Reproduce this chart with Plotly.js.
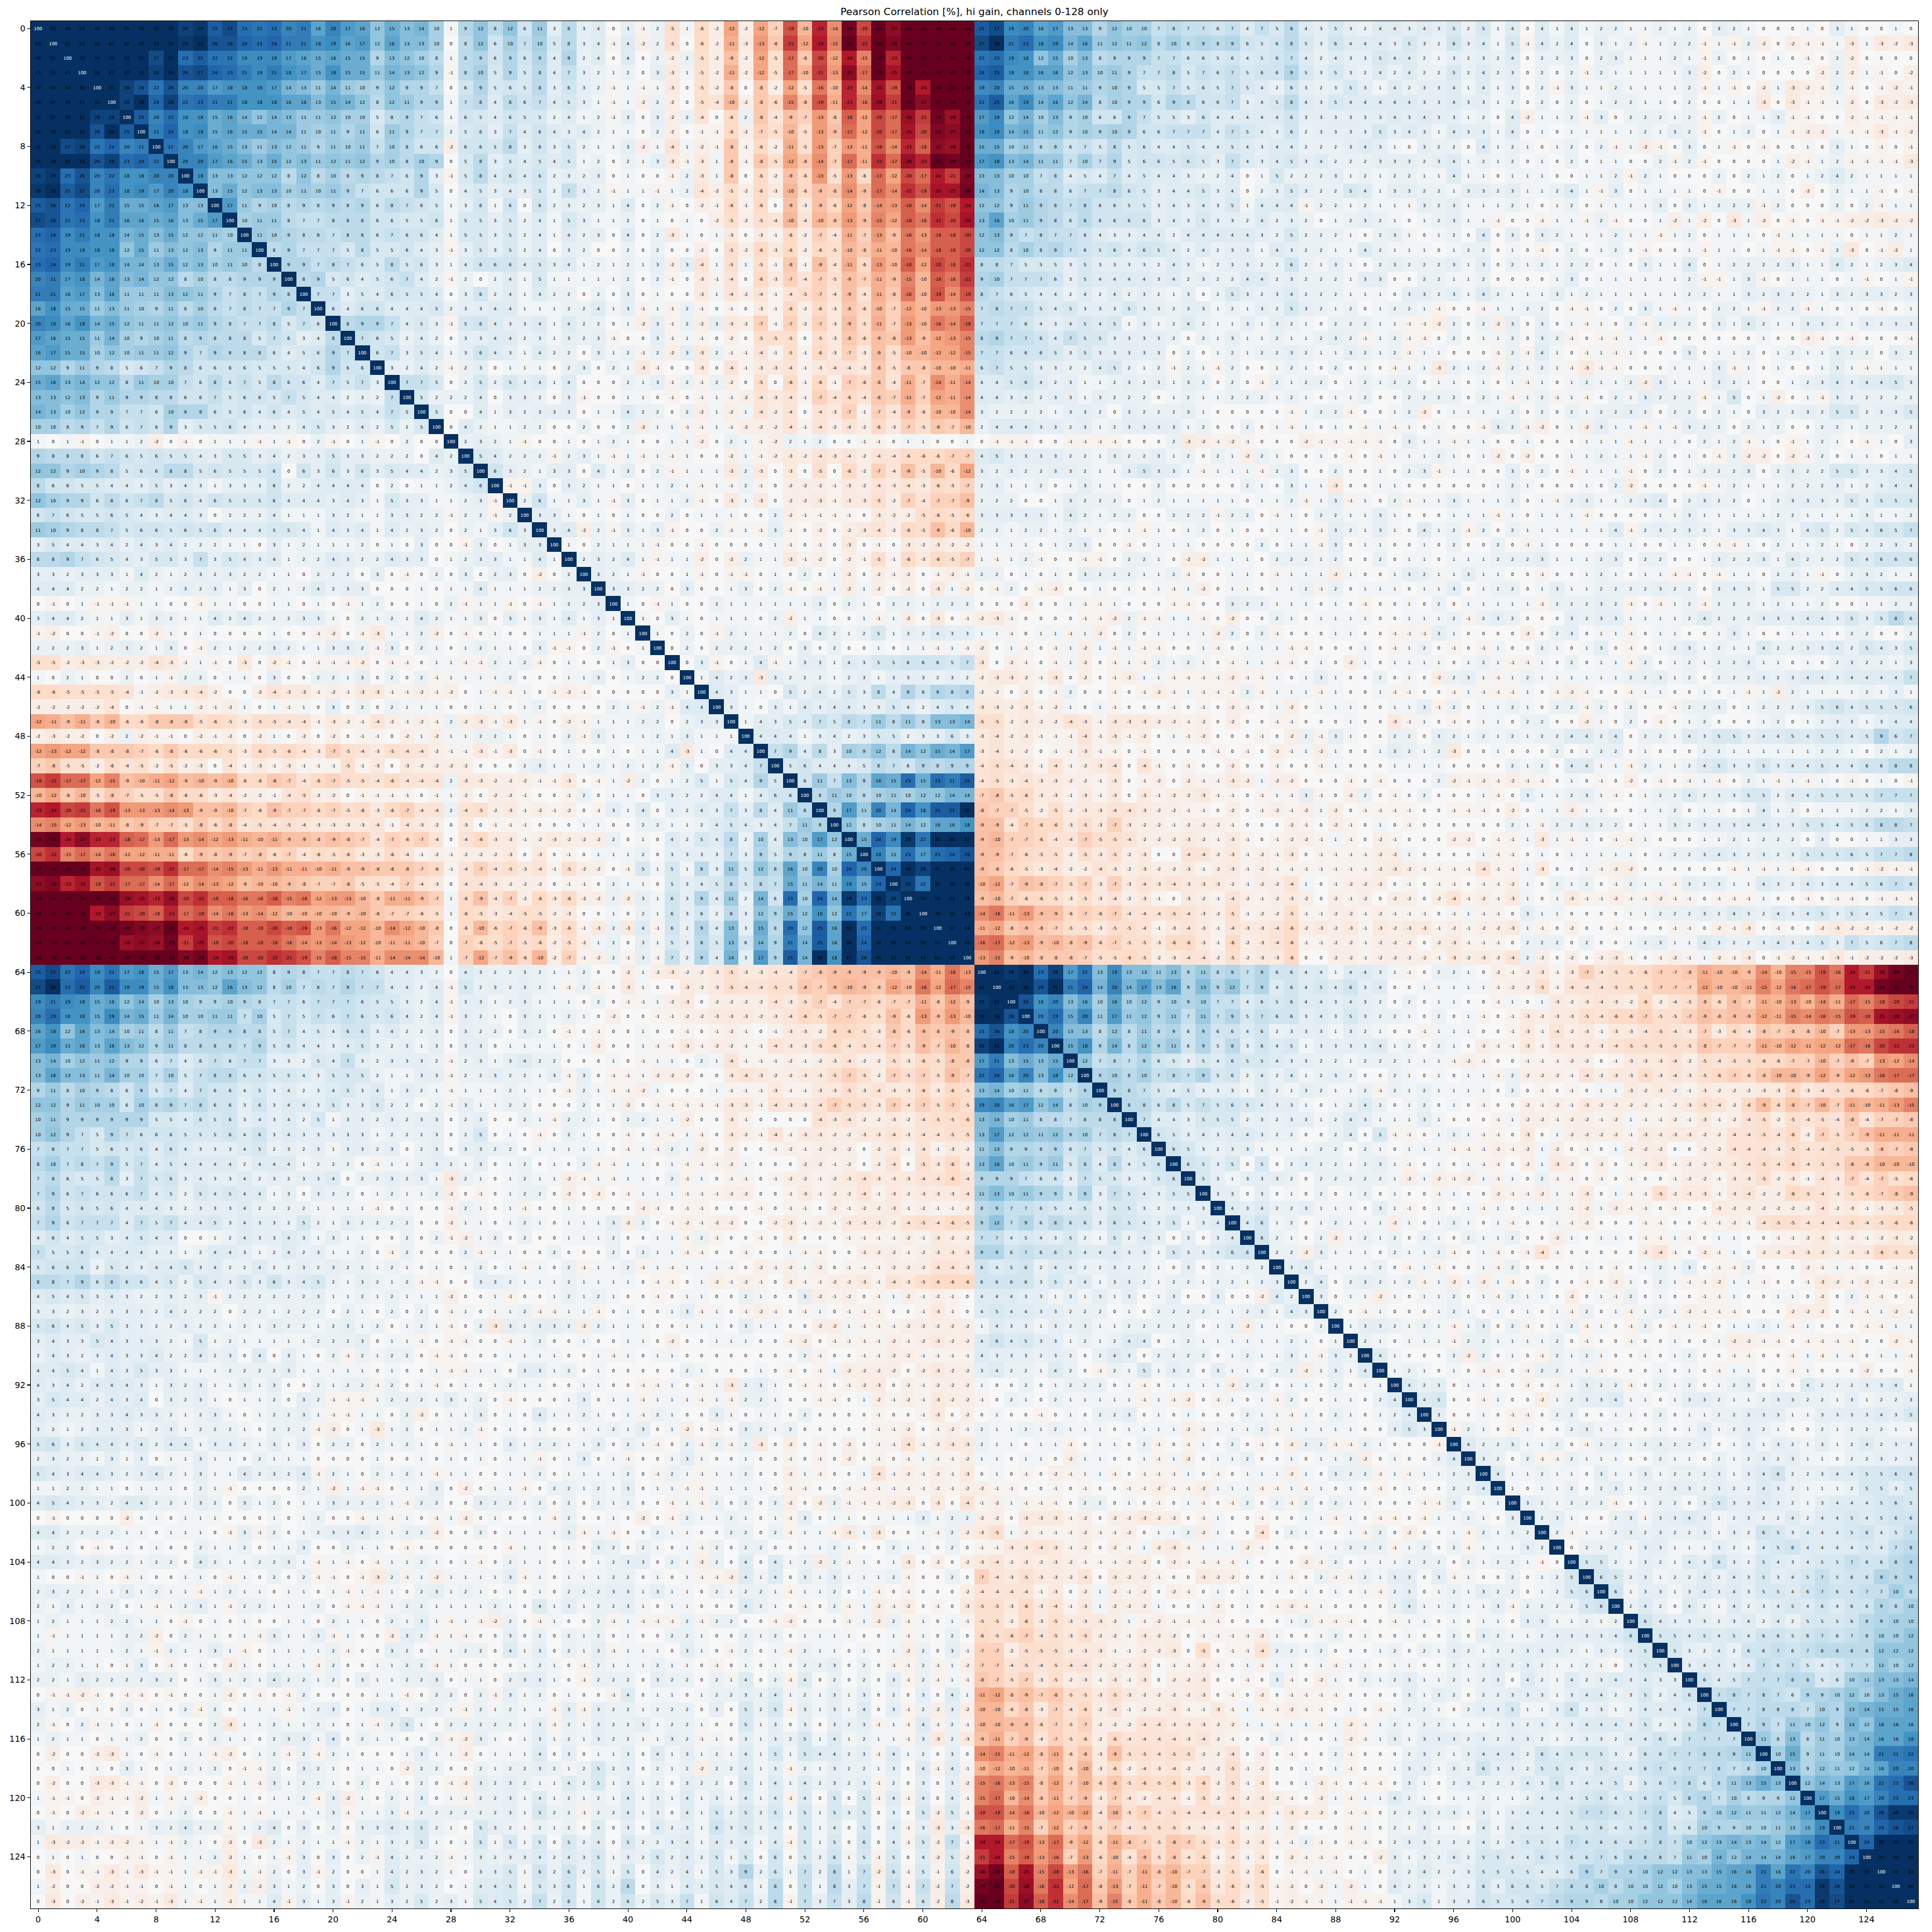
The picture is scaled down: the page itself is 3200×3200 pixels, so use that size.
<!DOCTYPE html>
<html><head><meta charset="utf-8">
<script src="https://cdn.plot.ly/plotly-3.0.1.min.js"></script>
<style>html,body{margin:0;padding:0;background:#fff}#chart{width:3200px;height:3200px}</style>
</head><body><div id="chart"></div>
<script>
const titleText = "Pearson Correlation [%], hi gain, channels 0-128 only";
const channelCount = 128;
const tickValues = [0,4,8,12,16,20,24,28,32,36,40,44,48,52,56,60,64,68,72,76,80,84,88,92,96,100,104,108,112,116,120,124];
const rdbuStops = ["#67001f","#b2182b","#d6604d","#f4a582","#fddbc7","#f7f7f7","#d1e5f0","#92c5de","#4393c3","#2166ac","#053061"];

// rows 0-38, from the cell right of the diagonal through channel 39
const triA = [
[60,49,53,40,46,35,36,32,35,28,29,25,27,23,22,23,20,21,16,20,17,16,12,15,13,14,10,1,9,12,8,12,6,11,3,8,3,4,0],
[51,55,43,47,37,39,33,38,29,32,26,26,24,23,24,21,21,18,19,16,17,12,16,13,13,10,0,8,12,6,10,7,10,5,8,3,4,-1],
[45,34,39,30,31,27,31,23,25,22,22,19,19,19,17,16,15,16,15,15,9,13,12,10,8,1,8,9,6,9,6,9,4,9,2,4,0],
[36,41,32,32,28,33,26,27,24,23,21,19,21,18,17,15,18,15,15,11,14,13,12,9,-1,8,10,5,9,5,8,4,7,3,2,1],
[31,28,26,22,26,20,20,17,18,18,18,17,14,13,11,14,11,10,9,12,9,9,7,0,6,9,5,6,5,8,3,6,3,2,-1],
[28,30,24,28,22,23,21,21,18,18,18,16,16,13,15,14,12,8,12,11,9,9,1,7,8,4,8,6,7,4,5,3,1,-1],
[25,20,23,18,18,15,16,14,12,14,13,11,11,12,10,10,5,8,9,7,6,1,6,5,4,6,5,5,2,4,1,2,-1],
[21,24,18,19,15,16,15,15,14,14,11,10,11,9,11,6,11,9,7,7,2,5,6,3,7,4,6,4,3,4,2,1],
[22,20,17,16,15,13,11,13,12,11,9,11,10,11,7,10,8,6,6,-2,6,6,5,8,3,6,3,5,2,1,1],
[20,20,17,16,15,13,15,12,13,11,12,11,12,9,10,8,10,9,0,5,8,3,5,4,5,4,5,1,2,0],
[18,13,13,12,12,12,8,12,8,10,8,9,8,7,6,9,3,-1,5,8,4,6,4,6,2,3,2,3,0],
[13,15,12,13,13,10,11,10,11,9,7,6,6,6,9,5,0,4,5,3,4,3,5,2,7,3,2,-1],
[17,11,9,10,8,9,8,9,8,9,6,8,7,6,5,1,3,6,1,6,0,6,2,3,2,3,1],
[10,11,11,8,7,7,8,8,8,6,6,5,5,6,1,5,5,3,5,2,4,1,5,3,1,1],
[11,10,9,8,8,7,8,8,6,7,6,6,4,1,5,5,3,5,2,4,1,4,2,3,0],
[8,9,7,7,7,5,8,5,5,6,4,3,-1,3,5,3,5,2,4,0,3,2,0,0],
[9,9,7,8,7,6,5,8,5,6,3,1,4,6,6,6,4,5,3,4,1,2,1],
[8,9,5,6,4,5,6,7,4,2,-1,2,0,2,4,1,5,1,1,1,1,1],
[7,7,3,5,4,6,5,5,4,0,3,6,2,4,1,4,2,2,0,2,0],
[6,4,6,6,4,4,4,5,2,3,3,4,4,1,1,1,2,2,4,1],
[8,9,9,7,4,5,3,-1,5,6,4,3,3,4,1,4,2,2,0],
[7,6,5,2,4,2,0,3,3,4,4,2,3,1,3,2,3,-1],
[6,7,3,5,4,1,3,6,4,3,1,4,2,2,0,3,1],
[3,2,4,2,-1,2,3,0,1,1,1,0,2,3,0,2],
[7,7,5,0,2,5,2,5,3,4,1,4,0,0,0],
[5,2,2,2,4,0,3,3,2,0,3,-1,0,0],
[5,0,0,4,1,3,2,3,3,3,0,1,1],
[0,4,2,1,1,2,2,0,0,2,0,0],
[2,3,2,1,-1,0,0,1,0,1,2],
[5,4,2,2,2,-1,2,3,1,-1],
[6,3,2,1,3,3,0,4,1],
[-1,-1,3,0,3,2,1,1],
[2,6,1,1,3,1,-1],
[3,3,1,0,1,0],
[3,4,-2,2,-1],
[1,0,2,1],
[2,3,2],
[3,2],
[3]
];

// rows 0-39, channels 40-79
const blockB = [
[3,-1,2,-5,1,-6,-2,-12,-2,-12,-7,-19,-10,-23,-14,-29,-20,-37,-27,-43,-34,-49,-46,-56,25,27,19,20,16,17,13,13,9,12,10,10,7,8,7,7],
[4,-2,2,-5,0,-6,-2,-11,-3,-13,-8,-21,-12,-24,-15,-31,-22,-36,-28,-45,-37,-52,-48,-59,27,30,21,23,18,19,14,16,11,12,11,12,8,10,8,9],
[4,0,2,-2,2,-5,-2,-9,-2,-12,-5,-17,-8,-20,-12,-24,-15,-30,-23,-36,-30,-42,-37,-46,22,23,19,18,12,15,10,13,8,9,9,9,7,7,6,6],
[2,0,3,-3,1,-5,-2,-11,-2,-12,-5,-17,-10,-21,-13,-27,-17,-32,-25,-39,-31,-44,-42,-50,24,25,18,18,16,16,12,13,10,11,9,7,7,8,5,7],
[1,-1,1,-3,0,-5,-2,-8,0,-8,-2,-12,-5,-16,-10,-23,-14,-25,-19,-30,-24,-34,-31,-38,19,20,15,15,13,13,11,11,9,10,9,5,5,7,5,6],
[1,-2,2,-2,0,-5,-4,-10,-2,-8,-6,-15,-8,-19,-11,-23,-16,-26,-21,-33,-27,-37,-36,-42,22,25,16,19,14,16,12,14,8,10,9,9,6,9,8,6],
[3,0,3,-2,2,-4,0,-6,2,-8,-4,-9,-7,-13,-8,-18,-12,-20,-17,-26,-21,-29,-26,-33,17,19,12,14,10,13,9,10,6,6,9,7,5,5,3,6],
[1,0,2,-2,0,-1,-1,-6,-2,-7,-5,-10,-5,-13,-9,-17,-12,-20,-17,-25,-20,-28,-27,-32,18,19,14,15,11,12,9,10,9,10,9,6,6,7,7,7],
[3,-2,1,-4,1,-2,-1,-8,-1,-6,-2,-11,-5,-13,-7,-13,-11,-19,-14,-23,-18,-27,-26,-32,15,15,10,11,8,9,6,7,5,8,5,6,4,4,5,4],
[2,1,3,-3,-1,-3,1,-8,-1,-8,-5,-12,-8,-14,-7,-17,-11,-22,-17,-26,-23,-31,-29,-33,17,18,13,14,11,11,7,10,7,9,5,6,6,5,6,5],
[1,0,0,-1,2,-3,1,-8,0,-6,-2,-9,-6,-13,-5,-13,-6,-17,-12,-20,-17,-24,-21,-28,13,13,10,10,7,8,4,5,4,7,4,5,4,4,3,2],
[1,1,-1,1,2,-4,-2,-5,-2,-6,-3,-10,-6,-9,-8,-14,-9,-17,-14,-22,-19,-25,-25,-29,14,13,9,10,8,8,6,7,7,8,6,5,3,4,4,5],
[4,0,2,-1,0,-2,-1,-6,-1,-6,0,-9,-3,-9,-6,-12,-8,-14,-13,-18,-14,-21,-19,-24,12,12,9,11,9,8,7,8,6,6,5,5,3,4,3,4],
[2,0,1,0,1,0,-2,-5,-2,-5,-4,-10,-4,-10,-8,-13,-9,-15,-12,-18,-16,-22,-20,-25,13,16,10,11,9,8,6,8,6,6,6,6,3,4,3,5],
[4,0,2,-3,1,0,1,-3,0,-3,-1,-6,-2,-7,-4,-11,-7,-13,-9,-16,-13,-18,-18,-20,12,13,9,7,8,7,7,6,4,3,3,4,4,2,4,4],
[2,0,2,0,0,-2,0,-5,-2,-6,-3,-6,-2,-6,-5,-10,-8,-11,-10,-16,-14,-18,-18,-20,12,12,8,10,8,9,7,6,5,6,4,6,5,4,2,4],
[2,1,3,-2,3,-4,1,-5,1,-5,-1,-8,-1,-9,-4,-11,-6,-13,-10,-18,-12,-20,-18,-22,8,8,7,5,5,5,3,5,3,3,3,3,2,4,3,1],
[2,0,2,-1,0,-3,-1,-4,0,-6,-3,-7,-4,-7,-5,-9,-7,-11,-9,-15,-10,-18,-16,-21,9,10,7,7,7,6,3,5,4,4,4,4,3,4,2,3],
[3,0,1,0,0,-3,1,-4,-2,-4,-1,-4,-5,-7,-4,-9,-4,-11,-8,-16,-10,-19,-14,-19,8,7,6,5,4,4,2,4,2,4,2,3,2,1,3,0],
[3,-1,1,-1,2,-1,0,-1,0,-3,-1,-6,-2,-6,-3,-8,-6,-10,-7,-12,-10,-13,-13,-15,7,8,7,7,5,4,5,3,3,3,5,3,3,2,3,3],
[1,-2,3,-1,2,-2,3,-3,-2,-7,-1,-7,-2,-7,-3,-9,-5,-11,-7,-13,-10,-16,-14,-18,7,7,7,6,4,3,4,5,4,5,1,3,1,2,4,2],
[0,0,3,-1,1,-1,0,-2,0,-5,-5,-5,0,-5,-3,-8,-6,-9,-8,-13,-9,-12,-13,-15,8,9,7,7,6,4,7,5,5,3,3,3,3,2,0,2],
[2,-1,2,-2,3,-3,2,-1,-1,-4,-1,-5,-1,-6,-3,-7,-3,-9,-5,-10,-10,-12,-12,-15,7,7,6,6,6,5,3,5,3,3,3,3,3,0,2,0],
[1,-3,-1,0,0,-3,0,-4,-1,-3,-3,-4,-1,-3,-4,-4,-3,-8,-5,-8,-8,-10,-10,-11,6,7,5,5,3,3,2,2,4,5,2,1,2,-1,2,1],
[2,1,3,-1,2,-1,2,-2,0,-5,0,-6,-1,-6,-1,-7,-6,-8,-4,-11,-7,-14,-11,-14,4,4,5,6,4,2,3,1,1,2,3,2,3,1,3,2],
[1,1,0,-1,0,-1,1,-1,-2,-4,-3,-4,-1,-7,-4,-6,-4,-8,-7,-11,-7,-12,-11,-14,4,4,3,4,2,3,3,1,3,2,2,2,0,1,2,1],
[4,2,2,0,2,-2,1,-2,1,-4,-2,-4,0,-4,-3,-7,-1,-7,-4,-9,-6,-10,-10,-14,3,2,2,2,2,1,3,3,2,0,3,2,2,2,3,1],
[2,-2,1,1,-1,-1,1,-1,-2,-2,-2,-4,-1,-4,-2,-4,-2,-6,-3,-7,-5,-8,-7,-10,2,4,4,4,3,3,2,3,1,2,3,3,3,3,1,2],
[1,0,0,1,1,-2,0,2,1,-1,-2,2,1,2,0,0,-1,-1,0,1,1,0,0,1,0,-1,-1,-1,0,0,-1,-1,-1,-1,0,0,0,2,-3,-2],
[1,-1,1,-1,1,0,0,-2,1,-1,-2,-3,-2,-4,-3,-4,-2,-4,-4,-6,-6,-6,-7,-7,4,5,3,3,3,3,2,2,1,3,2,2,3,1,2,0],
[3,0,2,-1,1,1,1,-3,2,-3,0,-3,0,-5,0,-6,-2,-7,-4,-9,-5,-10,-6,-12,3,2,3,2,2,3,3,2,1,1,3,5,3,3,1,-1],
[0,1,1,2,1,-1,1,-1,2,-1,0,-2,-2,-2,-1,-3,-2,-4,-3,-4,-3,-6,-5,-7,2,3,1,1,2,0,1,3,1,1,0,0,2,0,0,0],
[3,0,1,1,2,-1,0,-3,1,-3,0,-2,-2,-3,-1,-3,-3,-5,-2,-7,-4,-7,-7,-9,2,2,2,0,0,1,3,2,2,2,0,1,2,1,1,1],
[1,0,0,2,0,1,1,1,0,0,2,-2,-1,-1,-1,-1,0,-3,-2,-2,-5,-6,-5,-6,3,3,3,3,3,1,4,2,1,2,2,0,0,2,2,2],
[3,1,3,-1,0,0,2,-1,1,-1,3,-1,0,-2,0,-2,-3,-4,-2,-6,-5,-9,-6,-10,2,2,1,2,2,1,2,1,1,0,1,-1,1,0,1,2],
[1,1,-1,0,0,-1,0,0,0,0,1,-1,0,-1,0,-3,0,-1,0,-3,-2,-3,-2,-2,1,1,1,1,0,1,2,3,0,0,-1,0,1,1,1,0],
[4,1,-1,1,1,-2,0,-2,2,1,1,-3,-1,-2,0,-2,-1,-5,-1,-6,-3,-6,-5,-7,1,-1,1,2,-1,0,0,-1,-1,0,2,2,1,0,-2,-2],
[1,-1,0,0,1,-1,0,-1,-1,0,1,0,2,0,1,-2,0,-2,-1,-2,0,-1,-2,-1,2,2,0,1,0,1,0,3,2,2,2,1,1,2,-1,0],
[3,2,2,0,3,0,0,1,3,0,2,-1,0,-1,1,-2,1,-2,0,-2,0,-3,1,-2,0,-1,2,0,-1,-2,0,0,1,0,1,0,1,-1,1,-2],
[1,0,-1,1,0,0,2,1,1,1,1,1,1,3,0,2,1,0,2,2,1,2,2,2,0,0,0,-2,0,0,1,-1,-1,1,0,0,0,-1,-1,0]
];

// rows 0-39, channels 80-127
const blockC = [
[6,7,4,7,5,8,4,3,5,3,2,4,4,3,4,3,5,2,5,1,4,0,4,1,4,1,2,2,1,1,2,1,2,0,3,2,1,0,0,0,1,0,3,1,0,0,1,0],
[8,9,6,5,6,8,5,3,6,4,4,4,3,5,3,2,6,3,4,1,5,-1,4,2,4,0,3,1,2,-1,1,2,2,-1,1,-1,2,-2,0,-2,-1,-1,1,-3,1,-3,-2,-3],
[5,6,4,5,6,7,4,2,4,3,3,5,4,4,2,1,3,2,3,2,4,0,2,2,3,0,2,3,1,1,1,2,1,-1,2,0,1,0,1,0,-1,0,2,-2,0,0,0,0],
[6,7,5,6,6,9,5,3,5,3,2,4,2,4,2,2,5,2,4,2,3,0,2,0,2,-1,2,1,1,1,1,1,3,-2,0,2,1,0,0,0,0,-2,2,-2,1,-1,0,-2],
[5,7,5,4,2,6,3,2,3,5,3,1,4,2,3,3,4,1,4,1,3,0,2,-1,3,1,1,2,1,1,1,1,2,-1,1,-1,0,-2,1,-3,-2,-1,2,-1,0,-1,-2,-1],
[6,7,3,4,5,8,4,3,5,4,4,4,4,4,3,3,4,3,3,1,2,0,2,0,2,0,1,2,2,1,1,0,2,0,0,1,1,-3,0,-3,-1,-1,1,-2,0,-3,-2,-3],
[4,4,4,4,4,6,3,3,3,3,3,3,4,3,4,3,3,1,2,0,4,-2,1,1,2,-1,3,0,2,2,2,1,2,-1,2,0,1,1,3,-1,-1,0,0,-2,-1,-1,-1,-1],
[4,7,5,4,3,6,2,3,3,3,3,5,3,4,3,1,4,3,3,1,4,0,1,0,1,1,1,1,1,2,1,3,2,-1,0,1,2,0,1,-1,-2,-2,1,-1,-1,-3,-1,-2],
[4,5,4,3,4,4,2,2,2,3,4,3,1,0,3,2,2,0,4,1,2,1,0,1,2,0,2,-1,1,-2,-1,0,3,0,1,-1,0,-1,0,0,1,0,3,1,0,-1,0,-1],
[3,7,4,3,4,5,3,4,2,2,2,3,3,3,2,3,4,1,2,1,2,0,1,0,2,0,1,1,0,0,2,-1,2,-1,0,0,0,0,1,-2,-1,1,2,-1,-1,-1,-1,-3],
[2,4,0,1,5,2,2,2,3,1,2,1,2,2,1,1,4,1,1,0,1,1,1,0,0,1,1,2,-1,2,1,0,0,0,2,0,2,1,2,0,1,2,4,2,1,1,1,1],
[3,4,0,2,3,5,3,2,2,5,4,1,3,3,2,2,1,3,3,2,3,1,1,2,4,1,-1,3,0,1,1,1,1,0,-1,0,0,1,1,0,-2,0,2,1,1,-1,0,-1],
[3,5,1,4,4,4,-1,2,2,1,2,1,1,1,3,2,3,1,1,1,2,1,0,1,2,0,1,1,1,1,3,0,3,1,2,2,2,-1,2,0,0,0,2,0,2,-1,1,1],
[3,3,2,4,2,3,2,0,1,2,3,2,1,0,1,2,3,1,1,-1,0,0,-1,1,1,-1,2,-1,0,0,1,-2,1,-2,0,-3,1,-2,0,-1,0,-1,-1,-2,-2,-3,-2,-2],
[4,4,4,3,2,5,2,2,2,1,0,2,3,1,0,1,2,0,4,0,3,0,3,2,1,1,1,2,1,1,-1,1,2,0,1,1,1,0,-1,1,1,1,1,0,1,1,2,1],
[2,3,3,1,4,3,2,2,1,1,4,2,1,1,1,0,1,2,2,0,1,0,-1,0,2,0,1,2,0,-1,0,0,1,-1,1,1,0,1,-1,-1,0,-1,2,-3,0,-1,-2,1],
[2,3,3,2,2,6,2,1,3,1,0,2,3,2,2,2,3,1,3,0,2,1,2,1,2,2,0,1,0,3,1,1,4,0,1,2,2,2,2,3,1,1,4,2,1,2,3,4],
[2,2,4,4,2,3,2,2,2,1,3,3,0,0,2,2,1,1,2,0,0,0,0,1,3,0,1,1,1,1,1,1,2,-1,-1,1,3,-1,0,1,1,1,0,1,-1,0,1,-1],
[2,5,3,2,3,4,2,2,2,1,1,1,0,3,3,2,3,1,4,2,1,1,1,3,1,2,1,1,1,1,1,1,2,2,1,1,3,2,3,2,2,1,3,2,3,3,2,3],
[1,2,1,3,2,5,3,2,1,2,0,1,2,2,1,-1,0,0,-1,1,1,2,2,0,-1,-1,0,2,0,3,1,-1,1,0,2,2,1,-1,2,2,-1,1,0,1,0,-1,0,1],
[1,1,3,1,3,2,1,0,2,2,2,1,1,-1,-1,-2,2,0,2,-2,3,0,3,0,1,-1,1,0,2,-1,2,2,2,0,3,1,4,2,1,1,3,3,2,1,3,2,3,3],
[1,3,1,1,2,1,1,2,3,2,-1,1,2,-1,-1,0,2,0,1,1,2,0,3,2,-1,0,-1,-1,1,1,-1,0,0,0,0,0,0,1,0,0,-2,-1,0,-1,0,0,0,-1],
[1,2,1,2,2,3,2,1,1,3,2,1,2,-1,1,1,0,0,0,-1,2,-1,4,1,0,-1,1,-1,1,0,0,0,3,0,1,1,2,0,1,2,1,1,3,2,2,0,3,2],
[-1,2,0,0,1,2,1,0,2,0,1,0,-1,1,1,-3,2,1,2,-1,2,1,2,1,-1,-3,-1,-1,0,0,0,1,1,1,3,-1,1,0,1,0,0,1,3,1,-1,1,1,1],
[0,2,0,-1,2,1,2,2,0,1,2,1,2,2,0,1,1,0,1,0,1,-1,1,0,1,2,1,1,2,-2,3,1,1,1,3,2,1,0,0,1,2,3,4,3,4,4,5,3],
[1,2,2,2,1,2,1,0,1,1,2,0,0,2,2,2,2,0,2,1,-1,1,2,-1,1,-1,0,2,1,3,2,2,2,-1,1,5,0,1,-2,0,1,-1,3,2,2,2,2,2],
[0,0,0,0,0,-1,1,2,2,-1,0,0,1,2,-2,0,1,1,1,1,2,0,2,0,2,1,2,2,3,2,0,2,2,0,2,1,0,3,2,2,3,2,5,5,2,3,3,5],
[0,0,2,0,1,-1,1,0,1,0,-1,1,-1,1,0,1,0,0,-1,3,2,-1,-2,0,1,-2,3,1,1,-1,1,-1,3,2,2,0,2,1,2,0,0,2,2,1,2,2,2,2],
[-1,-2,-1,0,0,0,-2,-1,-1,-1,-1,-1,0,3,1,1,-1,1,1,0,0,1,0,0,0,1,1,1,-1,1,1,1,0,2,1,2,-1,1,0,-1,1,2,1,0,-1,1,0,3],
[2,1,-2,2,1,0,0,1,0,-1,0,-1,1,1,1,2,1,0,1,-2,0,-2,0,0,1,1,2,1,1,-1,2,0,1,0,-1,2,-2,-2,0,-2,-1,2,0,1,1,0,1,1],
[1,1,1,-1,2,3,0,0,2,0,0,1,0,2,3,-1,1,1,0,0,3,0,2,0,-1,1,1,1,-1,0,2,0,1,2,2,2,3,0,2,3,2,2,5,5,3,3,4,5],
[0,0,2,1,0,3,1,1,-3,0,0,1,1,0,0,0,0,0,0,1,2,1,0,0,0,1,0,2,-2,0,0,0,0,-1,1,2,1,1,1,2,2,2,3,1,2,3,4,4],
[1,1,0,1,1,2,-1,1,3,-1,1,0,2,-1,1,1,3,1,1,1,2,0,1,-1,2,3,1,1,2,3,4,0,2,3,2,2,0,1,2,3,3,3,2,5,3,5,5,5],
[-1,2,2,0,-1,1,0,2,2,1,1,3,1,0,0,0,1,1,1,-1,1,0,1,1,1,-1,0,0,0,0,1,1,3,1,1,1,1,1,2,2,1,1,1,1,3,1,1,2],
[0,1,0,0,1,1,0,-1,3,2,1,3,1,0,4,1,2,-1,2,0,2,1,1,1,1,1,1,4,-1,2,3,2,3,2,1,3,3,4,3,1,4,5,2,5,4,6,5,7],
[0,0,0,2,0,1,1,-1,3,0,1,1,0,0,1,0,2,0,0,2,0,-1,1,0,0,0,0,1,1,0,0,1,1,0,-1,-1,1,0,2,1,1,2,1,0,2,2,3,2],
[1,1,1,0,2,2,2,1,2,0,0,2,0,1,1,0,1,1,1,2,2,2,3,1,1,1,2,3,0,2,2,0,0,1,3,2,2,3,1,4,2,2,2,5,4,6,6,6],
[0,1,1,0,-1,1,1,1,-2,1,0,0,1,3,2,1,1,3,1,1,0,0,-1,0,0,1,2,1,0,1,1,-1,-1,0,-1,1,1,0,2,2,1,-1,0,2,3,2,1,1],
[0,1,1,0,1,1,2,-1,2,0,1,1,1,0,1,1,3,0,1,2,2,0,1,3,1,1,2,2,2,2,3,2,2,0,3,3,3,1,5,5,2,2,4,4,5,5,6,6],
[0,3,2,2,1,1,1,0,1,0,-1,0,0,1,0,2,0,1,1,1,1,1,-1,2,2,2,3,2,-1,0,-1,1,2,-1,2,2,2,1,2,1,1,2,0,0,1,1,2,2]
];

// rows 40-78, from the cell right of the diagonal through channel 79
const triD = [
[1,0,3,1,0,1,1,1,0,2,-2,1,1,0,0,1,-1,1,-2,0,-3,0,-1,-2,-3,-1,0,0,0,0,-1,-1,-2,2,-1,-1,1,1,-1],
[1,0,2,0,-1,2,1,1,1,2,0,4,2,1,2,5,1,3,2,4,3,3,1,1,-1,0,1,1,-1,1,-2,0,2,0,1,1,1,1],
[0,2,0,2,2,2,1,2,0,3,0,2,0,0,1,0,1,1,-1,1,-1,-2,0,1,-1,0,-1,1,-2,1,-1,1,-1,-1,0,0,1],
[0,3,-1,0,1,4,-1,1,3,3,1,4,3,5,5,6,6,6,5,7,-3,0,-2,-1,0,-1,1,-2,0,-1,1,-1,2,1,2,1],
[1,4,2,3,-3,3,2,2,2,1,2,3,1,3,3,3,2,3,2,-2,-3,-3,-2,-1,-3,0,-2,0,-1,-2,1,1,-1,-1,-1],
[4,3,1,1,0,5,2,4,2,5,3,8,4,9,6,9,8,9,-2,-2,0,-2,0,-1,2,0,0,-1,0,-1,-2,-1,1,-1],
[3,1,0,3,1,4,3,4,4,3,3,5,4,2,4,5,4,-3,-3,-2,-3,-1,-2,1,0,1,-1,0,0,0,-1,0,-1],
[1,4,3,5,4,7,5,8,7,11,8,11,8,13,13,14,-5,-5,-2,-3,-2,-2,-4,-3,-1,-3,-3,-3,-2,-2,-1,-2],
[4,4,4,1,3,4,2,3,5,5,2,3,3,6,3,-3,-4,-2,-3,-1,-1,-1,-4,-1,-3,-1,-2,0,1,-1,-2],
[7,9,4,8,3,10,9,12,8,14,12,15,14,17,-3,-4,-2,-2,0,-1,-1,-3,-1,-1,0,-1,0,0,0,0],
[5,6,4,4,4,5,8,7,6,9,8,9,9,-4,-5,-4,-3,-1,-4,-1,-2,-3,-4,0,-4,-1,0,-1,0],
[6,11,7,13,9,16,15,23,15,23,21,25,-4,-5,-3,-4,-3,-3,-2,-2,-1,-3,0,-1,-2,0,-2,-1],
[8,11,10,8,10,11,10,12,12,14,14,-7,-8,-5,-6,-3,-3,-1,-3,-1,-3,0,-3,-1,-2,-2,-3],
[9,17,11,20,14,24,18,25,25,30,-8,-7,-7,-5,-2,-5,-2,-3,-3,-4,-4,-3,-2,-2,-1,-1],
[12,8,10,11,14,12,16,16,18,-9,-9,-4,-7,-6,-6,-3,-5,-3,-7,-3,-2,-2,-1,-2,-2],
[15,24,19,29,22,32,30,37,-9,-10,-7,-7,-6,-4,-4,-7,-5,-5,-4,-2,-2,-2,-3,-2],
[20,15,23,17,23,24,26,-9,-9,-7,-6,-5,-5,-2,-5,-3,-5,-2,-3,0,0,-4,-4],
[24,38,28,41,38,46,-9,-8,-6,-5,-3,-4,-2,-2,-4,-3,-2,-3,-2,-2,-3,-1],
[28,22,31,30,35,-10,-12,-7,-9,-8,-7,-5,-7,-3,-7,-3,-4,-3,-4,-3,-3],
[35,50,44,56,-9,-10,-7,-6,-6,-5,-3,-5,-3,-4,-2,-3,-1,0,-3,-2],
[39,38,43,-14,-16,-11,-13,-9,-9,-6,-7,-6,-7,-4,-4,-4,-5,-4,-3],
[52,64,-11,-12,-8,-9,-8,-7,-5,-5,-3,-5,-5,-4,-1,-3,-4,-3],
[59,-16,-17,-12,-13,-9,-10,-8,-9,-6,-7,-5,-5,-3,-6,-6,-3],
[-13,-15,-9,-10,-8,-8,-8,-7,-5,-5,-6,-5,-2,-3,-4,-4],
[41,29,34,23,28,17,22,13,19,13,13,11,13,9,11],
[33,38,26,31,21,24,14,20,14,17,13,16,9,13],
[26,18,20,13,16,10,16,10,12,9,10,9,10],
[20,23,15,20,11,17,11,12,9,11,7,11],
[20,13,13,8,12,8,11,8,9,6,9],
[15,18,9,14,8,12,9,11,6,9],
[12,7,8,7,9,6,5,3,5],
[9,10,8,10,7,8,7,9],
[9,8,7,5,4,5,3],
[8,8,6,8,5,7],
[7,4,4,3,5],
[6,5,3,4],
[6,5,3],
[6,5],
[5]
];

// rows 40-79, channels 80-127
const blockE = [
[0,-2,0,0,2,1,0,1,1,1,1,0,0,1,1,1,2,-1,2,3,2,0,0,0,3,2,3,3,1,1,1,1,2,4,2,2,2,3,3,3,4,4,3,5,3,5,8,6],
[-2,2,0,2,-1,0,0,0,1,1,0,0,-1,-1,-1,3,1,0,0,0,0,-2,0,2,3,0,1,1,-1,0,1,1,0,0,1,3,1,0,0,1,1,1,0,2,2,0,0,2],
[-1,0,1,1,1,-1,-1,0,0,0,1,0,-1,1,2,0,-1,0,-1,1,0,0,2,1,0,1,3,0,-1,0,1,2,3,1,2,1,1,4,2,2,3,3,4,2,5,4,3,5],
[0,-1,1,1,-1,-1,0,1,0,-2,1,0,1,1,1,1,0,1,2,1,-1,-1,1,0,2,0,1,1,-1,2,0,1,2,1,2,2,3,1,1,0,1,0,2,3,2,2,1,3],
[-1,-2,-1,-1,1,0,1,3,1,0,0,2,0,1,0,-2,2,3,1,-1,1,2,1,1,1,1,1,1,2,2,3,1,2,0,2,2,2,3,2,3,4,4,3,4,4,4,4,7],
[-1,-1,2,-1,1,1,1,-1,1,0,0,1,-1,-1,0,0,-1,1,-1,-1,-1,1,0,-1,-2,-1,0,0,-1,1,1,0,0,1,0,1,-1,1,-2,2,1,1,1,1,2,1,3,1],
[0,-2,-1,0,1,-2,0,1,1,1,0,0,1,1,3,-1,2,0,1,1,2,1,0,2,2,-1,2,0,2,0,0,-1,2,2,3,0,1,2,2,2,3,5,6,4,5,5,5,6],
[0,-2,0,0,-1,-1,0,0,0,1,0,0,-3,-1,1,0,-1,0,1,1,0,2,2,0,0,-2,1,0,2,0,-1,0,1,2,0,0,0,1,2,0,1,2,3,3,1,3,4,4],
[0,0,0,-1,0,-2,2,-1,3,1,0,0,2,2,0,3,2,1,2,1,2,1,2,2,4,4,2,4,0,2,2,1,4,3,5,5,3,4,4,5,4,5,5,4,5,9,6,7],
[-1,0,-1,0,-2,-1,1,-2,1,0,0,1,3,2,1,2,-3,0,0,1,0,0,0,2,0,1,2,2,0,1,0,0,0,2,2,1,1,1,1,1,1,2,2,1,0,2,1,2],
[0,-2,0,0,-1,0,0,-1,1,0,0,0,1,1,1,1,0,0,0,0,2,1,2,0,4,4,1,1,-1,2,1,1,2,4,5,3,3,5,3,4,4,5,4,4,6,6,8,8],
[-1,-3,-2,1,-2,-2,0,0,0,-1,0,-1,0,0,0,2,-2,-1,-2,-1,-2,-1,-1,0,1,0,-1,0,-2,0,-1,0,-1,1,-1,0,2,1,-1,1,-1,1,0,-1,0,1,0,-1],
[-1,-1,0,-1,1,-1,3,-1,0,-2,2,0,-1,0,2,0,0,0,1,-1,0,3,1,1,2,3,1,-1,0,1,2,2,4,2,3,3,5,5,2,4,4,5,5,5,5,7,7,7],
[0,-2,0,-1,-2,-1,-2,1,-2,0,-1,-1,-1,-1,0,0,-1,-1,-1,0,-2,0,1,1,-2,1,1,0,0,1,1,2,0,1,1,0,1,4,1,2,0,1,1,1,2,2,1,3],
[-2,-1,0,0,0,-2,-1,0,-2,-1,0,1,0,-1,0,0,0,0,0,0,2,1,-1,2,2,3,2,2,0,1,1,3,2,3,3,3,4,4,3,3,5,5,4,5,6,8,8,7],
[-1,-3,-1,0,-1,-2,-2,-1,1,-1,0,-2,-1,0,0,0,-2,-2,0,-1,-1,1,-3,1,-1,1,0,-1,-1,1,0,0,0,1,1,2,1,2,2,2,0,3,0,0,1,1,3,3],
[-2,-3,-1,-2,-1,-3,0,-1,-1,-1,-1,-2,-2,1,0,0,0,0,1,-1,-1,0,1,0,1,1,1,1,1,0,1,2,2,3,4,3,2,3,2,3,5,5,5,6,5,7,7,8],
[-2,-3,-1,-2,-1,-1,-1,-1,-1,-1,-1,-2,-3,-2,-1,-1,-1,-1,-4,-1,-1,1,-3,0,0,1,-1,-2,-2,0,0,0,0,0,0,-1,1,-1,1,-1,-1,0,0,0,-1,-2,-1,-1],
[-3,-2,-1,-2,-2,-4,1,0,-1,-2,-2,-2,0,-1,0,-1,-1,0,-1,-1,-2,1,0,2,1,2,0,-1,2,1,1,-1,3,2,3,1,1,4,3,2,4,3,4,4,5,6,7,6],
[-1,-4,-2,-1,-2,-3,-2,0,-2,-1,-2,0,-2,-2,0,-2,-4,-1,-2,-1,-3,1,0,1,-3,-1,-1,-2,-1,-1,-2,-1,-1,0,-1,-1,-1,1,0,0,-1,0,-1,-1,0,-1,-1,-1],
[-2,-5,-1,-2,-2,-5,-1,-1,-2,-2,-1,-2,-1,-1,-1,0,-1,1,-1,-1,0,3,1,1,0,0,0,0,1,1,2,2,2,3,2,4,3,2,4,3,4,5,3,5,4,5,7,6],
[-1,-4,-3,-3,-4,-6,-2,-3,-2,-3,-1,-3,-2,-3,-3,-1,-2,-1,-2,-2,-3,1,-1,0,-2,0,0,-1,0,0,0,-1,-1,0,-2,-1,-3,0,-1,0,0,-2,-3,-2,-2,-1,-2,-2],
[-1,-6,-2,-3,-4,-6,-1,-1,-2,-2,-1,-2,-2,-2,0,-2,-3,-1,-1,-1,0,2,2,2,0,2,0,0,1,2,3,1,1,4,3,2,2,3,4,3,4,5,3,7,5,6,7,8],
[-2,-5,-2,-3,-3,-6,0,0,-2,-2,-1,-2,-2,-2,-2,-1,-3,-2,-3,-2,-4,2,-2,0,-2,0,-2,-3,-1,0,-1,-2,-1,1,-2,-1,-3,0,-1,-2,-1,-1,-3,-1,-2,-2,-2,-3],
[8,9,7,9,6,6,4,4,1,4,4,3,1,-1,0,2,2,1,0,-2,-1,-2,-3,-1,-3,-7,-4,-5,-5,-6,-7,-7,-8,-11,-10,-10,-9,-14,-10,-15,-15,-19,-16,-24,-21,-26,-29,-31],
[9,12,7,9,4,6,4,5,4,6,3,4,0,0,1,1,1,1,1,-1,-2,-2,-5,-1,-4,-4,-4,-5,-5,-5,-7,-7,-7,-12,-10,-10,-11,-15,-12,-16,-17,-19,-17,-24,-24,-29,-31,-34],
[7,7,4,6,5,6,4,4,3,4,3,2,0,2,0,1,1,0,0,-1,1,0,1,-3,-2,-3,-4,-3,-2,-6,-2,-4,-5,-8,-6,-9,-7,-11,-10,-13,-10,-14,-11,-17,-15,-18,-20,-21],
[7,9,5,7,6,6,3,4,3,5,3,2,2,1,0,2,0,1,-1,0,-1,-3,-2,-3,-3,-5,-4,-6,-6,-7,-5,-5,-7,-9,-8,-9,-9,-12,-11,-15,-14,-16,-15,-19,-18,-25,-26,-27],
[6,6,4,6,2,3,3,3,1,3,2,1,0,0,-1,1,1,1,0,0,-1,-3,-1,-4,-2,-3,-1,-3,-3,-4,-5,-4,-3,-7,-3,-6,-4,-8,-7,-8,-8,-10,-7,-13,-13,-15,-16,-18],
[5,8,3,6,4,5,1,3,3,3,3,4,1,2,0,2,1,0,-2,-1,-1,-3,-1,-3,-3,-3,-3,-4,-5,-5,-5,-5,-5,-8,-7,-7,-7,-11,-10,-12,-11,-12,-12,-17,-16,-20,-22,-22],
[4,6,5,5,4,3,3,2,2,1,2,2,2,1,1,1,-1,-2,-1,0,0,-1,-1,-1,-2,-2,0,-1,-3,-3,-3,-4,-2,-5,-4,-5,-5,-6,-6,-7,-7,-10,-7,-9,-7,-13,-12,-14],
[5,6,2,4,2,4,1,2,3,2,0,0,2,1,0,1,0,1,1,-1,2,-2,-2,-2,-1,-4,-2,-3,-3,-5,-3,-4,-3,-5,-6,-7,-6,-8,-10,-10,-9,-12,-9,-12,-13,-16,-17,-17],
[3,3,1,4,2,1,3,2,1,1,2,-1,2,1,2,1,1,1,1,0,2,0,-1,0,-1,0,1,1,-3,-2,-3,-2,-1,-3,-2,-2,-2,-3,-3,-6,-3,-4,-5,-6,-6,-7,-8,-9],
[5,6,5,4,3,3,1,0,1,2,4,2,0,1,2,0,1,0,-1,0,0,-2,-1,-2,-1,-3,-2,-2,-2,-2,-1,-2,-3,-5,-4,-2,-6,-9,-6,-8,-7,-10,-7,-11,-10,-11,-13,-15],
[5,5,2,3,2,3,3,1,2,4,3,1,1,1,3,1,0,0,0,-1,1,-2,-2,-1,-2,-2,-1,-2,1,-1,-1,-2,-1,-3,-1,-2,-4,-5,-2,-5,-4,-5,-4,-8,-4,-7,-7,-8],
[3,4,4,3,2,2,0,0,2,4,0,5,-1,-1,0,1,2,1,-1,-1,0,-3,0,1,-2,-2,-2,-2,-1,-3,-2,-3,-3,-2,-2,-4,-4,-5,-4,-6,-2,-7,-5,-7,-9,-11,-11,-11],
[2,3,3,1,1,1,1,2,2,0,2,1,0,1,1,1,-1,-1,-1,-2,-1,-2,1,-2,0,-1,0,1,-2,-2,-2,0,0,-2,-2,-4,-4,-4,-3,-5,-4,-4,-5,-5,-5,-8,-7,-8],
[3,5,0,5,0,2,3,2,2,1,2,3,1,-1,0,1,0,1,-1,-1,0,-2,1,-3,-2,0,-2,0,-1,-2,-3,-1,-2,-2,-3,-3,-4,-5,-4,-6,-4,-5,-5,-8,-8,-10,-10,-10],
[3,1,3,3,3,2,0,2,2,2,2,2,1,-2,1,-2,-1,-2,1,-1,1,0,2,-1,-1,0,-1,0,-1,0,0,-1,-2,-2,-1,-3,-3,-5,-2,-3,-1,-4,-3,-7,-4,-7,-5,-6],
[3,3,0,3,0,1,0,2,0,1,2,0,1,0,0,-1,1,0,0,-2,-1,-1,-2,1,-1,-3,0,1,-1,-1,-5,-2,-3,-3,-1,-3,-4,-2,-2,-6,-5,-4,-3,-5,-6,-7,-8,-9]
];

// rows 80-118, from the cell right of the diagonal through channel 119
const triF = [
[4,3,4,2,2,3,1,1,1,0,3,1,-1,0,1,0,1,-1,1,0,1,1,1,-1,-2,1,-2,-1,-1,0,-1,0,0,-3,-2,-2,-2,-2,-2],
[4,6,1,2,0,1,2,1,1,1,-2,1,0,1,2,1,0,1,-1,0,0,1,-1,-2,0,0,0,-1,-1,0,0,-1,-1,-2,-1,-4,-5,-5],
[6,2,1,0,2,-2,1,2,1,2,0,2,1,0,2,1,1,2,0,0,-2,1,0,1,1,0,-1,-1,1,-1,0,1,1,0,0,-1,-1],
[2,2,-2,3,1,1,1,0,2,1,1,2,-1,0,1,-1,0,-1,-4,-1,0,0,0,0,0,-2,-4,-1,0,-2,-1,1,0,-2,-2,-3],
[3,4,1,1,1,1,2,0,-1,1,-1,0,0,1,-1,2,0,0,0,0,1,0,-1,0,1,2,1,3,0,-1,-1,2,0,0,0],
[2,4,0,2,3,2,1,2,-1,1,-2,1,-2,1,-1,0,2,0,0,-1,0,-2,1,0,2,1,-1,-1,-2,1,1,-1,0,0],
[3,0,1,1,-2,1,0,1,1,2,0,1,-1,2,1,1,0,-2,0,1,-1,2,0,1,0,0,-1,-1,1,0,0,1,1],
[2,0,-1,1,0,0,0,1,2,1,0,1,0,1,0,1,-1,2,0,1,-1,1,2,1,-2,-1,-1,-1,0,0,0,-2],
[1,3,3,2,1,2,1,-1,1,3,0,2,-1,0,1,2,-1,1,0,-1,2,0,-1,1,-1,0,1,1,2,1,-1],
[2,1,0,1,1,1,-1,2,2,1,1,1,1,2,0,-1,0,0,-1,0,0,1,0,0,1,-2,-2,-1,-1,0],
[4,1,0,0,0,2,-2,2,0,1,0,-1,2,1,2,1,0,0,1,0,1,2,0,0,-1,-1,0,0,-1],
[1,2,1,0,1,0,-1,-1,0,-1,2,2,1,1,-1,0,0,0,1,0,1,0,-1,1,1,0,0,-1],
[4,2,3,0,1,1,0,0,-1,0,-1,1,3,2,2,-1,0,2,1,2,0,1,2,3,0,1,0],
[4,5,0,0,-1,1,0,0,-2,1,2,3,3,4,1,1,0,1,3,3,2,1,1,2,3,3],
[3,0,0,1,0,-1,-1,0,2,2,0,0,1,1,0,2,0,1,1,2,2,3,3,3,1],
[-1,2,1,0,-1,1,0,0,2,3,1,1,0,0,1,0,1,3,1,2,3,2,1,0],
[4,2,2,3,1,1,2,0,-1,2,2,1,2,3,2,2,2,0,1,3,1,3,2],
[3,2,0,2,-1,-1,2,1,1,1,0,0,2,1,1,0,2,1,2,3,2,3],
[4,1,1,2,1,1,0,3,1,1,3,1,2,2,2,3,1,3,4,6,2],
[1,0,1,1,2,0,2,3,1,2,2,3,3,2,3,2,2,4,3,2],
[3,2,1,2,2,2,-1,0,1,2,2,0,3,5,3,3,4,3,2],
[2,3,1,0,0,2,3,1,3,3,4,3,1,2,3,2,2,4],
[2,-1,1,1,2,3,2,3,2,2,3,1,3,2,6,5,3],
[0,2,2,2,1,3,3,1,1,1,3,2,1,4,5,6],
[5,5,2,1,3,2,1,4,3,6,3,2,5,4,3],
[6,5,2,3,1,2,2,4,2,4,3,5,3,4],
[6,1,3,3,1,3,4,3,4,3,5,5,4],
[2,4,2,0,4,2,1,4,2,3,4,5],
[6,4,3,3,3,2,3,4,2,4,2],
[5,5,4,5,4,5,4,6,6,5],
[5,3,2,4,2,6,6,7,6],
[3,4,4,3,4,7,6,7],
[6,4,5,7,7,7,8],
[7,8,7,8,7,6],
[7,7,8,8,8],
[7,9,7,11],
[11,8,13],
[10,15],
[13]
];

// rows 80-119, channels 120-127
const blockG = [
[-2,-4,-2,-3,-1,-3,-3,-5],
[-4,-4,-4,-5,-4,-5,-6,-6],
[-2,-3,-1,-2,-1,-2,-3,-2],
[-3,-3,-2,-3,-3,-6,-5,-5],
[-2,-1,1,-1,0,0,-1,-1],
[-1,-3,-2,-1,-2,-1,-2,-2],
[0,-2,0,2,-1,-1,0,-1],
[-2,-2,0,-1,-1,1,-2,-1],
[1,0,0,0,-1,-1,1,1],
[-1,-1,-1,-1,0,0,-2,-1],
[1,-1,1,-1,0,1,1,-1],
[1,0,0,0,-2,0,0,-1],
[4,2,2,2,3,3,4,1],
[2,2,1,3,1,2,2,3],
[1,3,3,3,3,4,3,5],
[0,2,1,2,2,2,1,1],
[1,3,1,2,4,2,3,3],
[1,1,0,2,2,3,2,3],
[2,3,4,4,5,5,6,6],
[1,1,1,2,5,5,3,5],
[1,3,4,4,4,5,6,5],
[2,4,4,5,4,5,6,6],
[4,4,4,5,6,4,5,7],
[4,4,4,4,5,4,7,8],
[4,5,5,7,6,6,8,9],
[5,7,5,6,6,9,8,9],
[6,7,6,6,7,7,10,8],
[4,6,4,6,6,9,8,10],
[5,5,5,6,8,9,10,10],
[6,7,6,7,8,10,10,12],
[7,8,8,8,8,12,12,12],
[5,4,5,7,7,12,10,12],
[8,5,6,10,11,13,13,14],
[9,9,10,12,10,13,15,16],
[7,10,9,13,14,15,15,16],
[10,12,9,14,12,16,16,16],
[8,11,10,13,14,16,16,18],
[9,11,10,14,14,21,21,22],
[9,12,11,12,14,16,20,20],
[12,14,13,17,16,22,23,26]
];

// rows 120-126, from the cell right of the diagonal through channel 127
const triH = [
[17,15,18,17,20,23,23],
[19,23,20,26,29,29],
[21,20,24,26,27],
[24,30,34,35],
[32,32,34],
[42,43],
[46]
];

// ---- assemble the symmetric matrix
const N = channelCount;
const matrix = Array.from({length:N}, (_,i)=>Array.from({length:N}, (_,j)=> i===j ? 100 : 0));
function setPair(r,c,v){ if(r<N && c<N && v!==undefined){ matrix[r][c]=v; matrix[c][r]=v; } }
function placeTri(rows,startRow){ rows.forEach((row,i)=>{ const r=startRow+i; row.forEach((v,k)=>setPair(r,r+1+k,v)); }); }
function placeBlock(rows,startRow,startCol){ rows.forEach((row,i)=>{ row.forEach((v,k)=>setPair(startRow+i,startCol+k,v)); }); }
placeTri(triA,0); placeBlock(blockB,0,40); placeBlock(blockC,0,80);
placeTri(triD,40); placeBlock(blockE,40,80);
placeTri(triF,80); placeBlock(blockG,80,120); placeTri(triH,120);

const axisVals = Array.from({length:N},(_,i)=>i);
const offZ = matrix.map((row,i)=>row.map((v,j)=> i===j ? null : v));
const offText = matrix.map((row,i)=>row.map((v,j)=> i===j ? "" : String(v)));
const diagZ = matrix.map((row,i)=>row.map((v,j)=> i===j ? v : null));
const diagText = matrix.map((row,i)=>row.map((v,j)=> i===j ? String(v) : ""));
const colorscale = rdbuStops.map((c,i)=>[i/(rdbuStops.length-1),c]);
const fontFamily = "DejaVu Sans";

const common = {type:"heatmap",x:axisVals,y:axisVals,zmin:-30,zmax:30,zauto:false,colorscale,showscale:false,
  hoverinfo:"skip",texttemplate:"%{text}",xgap:0,ygap:0};
const traces = [
 Object.assign({},common,{z:offZ,text:offText,textfont:{family:fontFamily,size:7.3,color:"#000000"}}),
 Object.assign({},common,{z:diagZ,text:diagText,textfont:{family:fontFamily,size:7.3,color:"#ffffff"}})
];
const axisCommon = {tickmode:"array",tickvals:tickValues,ticktext:tickValues.map(String),ticks:"outside",ticklen:5,tickwidth:1.1,
  tickcolor:"#000",showline:true,linecolor:"#000",linewidth:1.1,mirror:true,showgrid:false,zeroline:false,
  tickfont:{family:fontFamily,size:13.9,color:"#000"}};
const layout = {
 width:3200,height:3200,paper_bgcolor:"#fff",plot_bgcolor:"#fff",
 margin:{l:51,r:23,t:35,b:39,pad:0},showlegend:false,
 title:{text:titleText,font:{family:fontFamily,size:16.67,color:"#000"},x:(51+3177)/2/3200,xanchor:"center",y:1-19/3200,yanchor:"middle"},
 xaxis:Object.assign({},axisCommon,{range:[-0.5,127.5],side:"bottom"}),
 yaxis:Object.assign({},axisCommon,{range:[127.5,-0.5]})
};
Plotly.newPlot("chart",traces,layout,{displayModeBar:false,staticPlot:true});
</script></body></html>
